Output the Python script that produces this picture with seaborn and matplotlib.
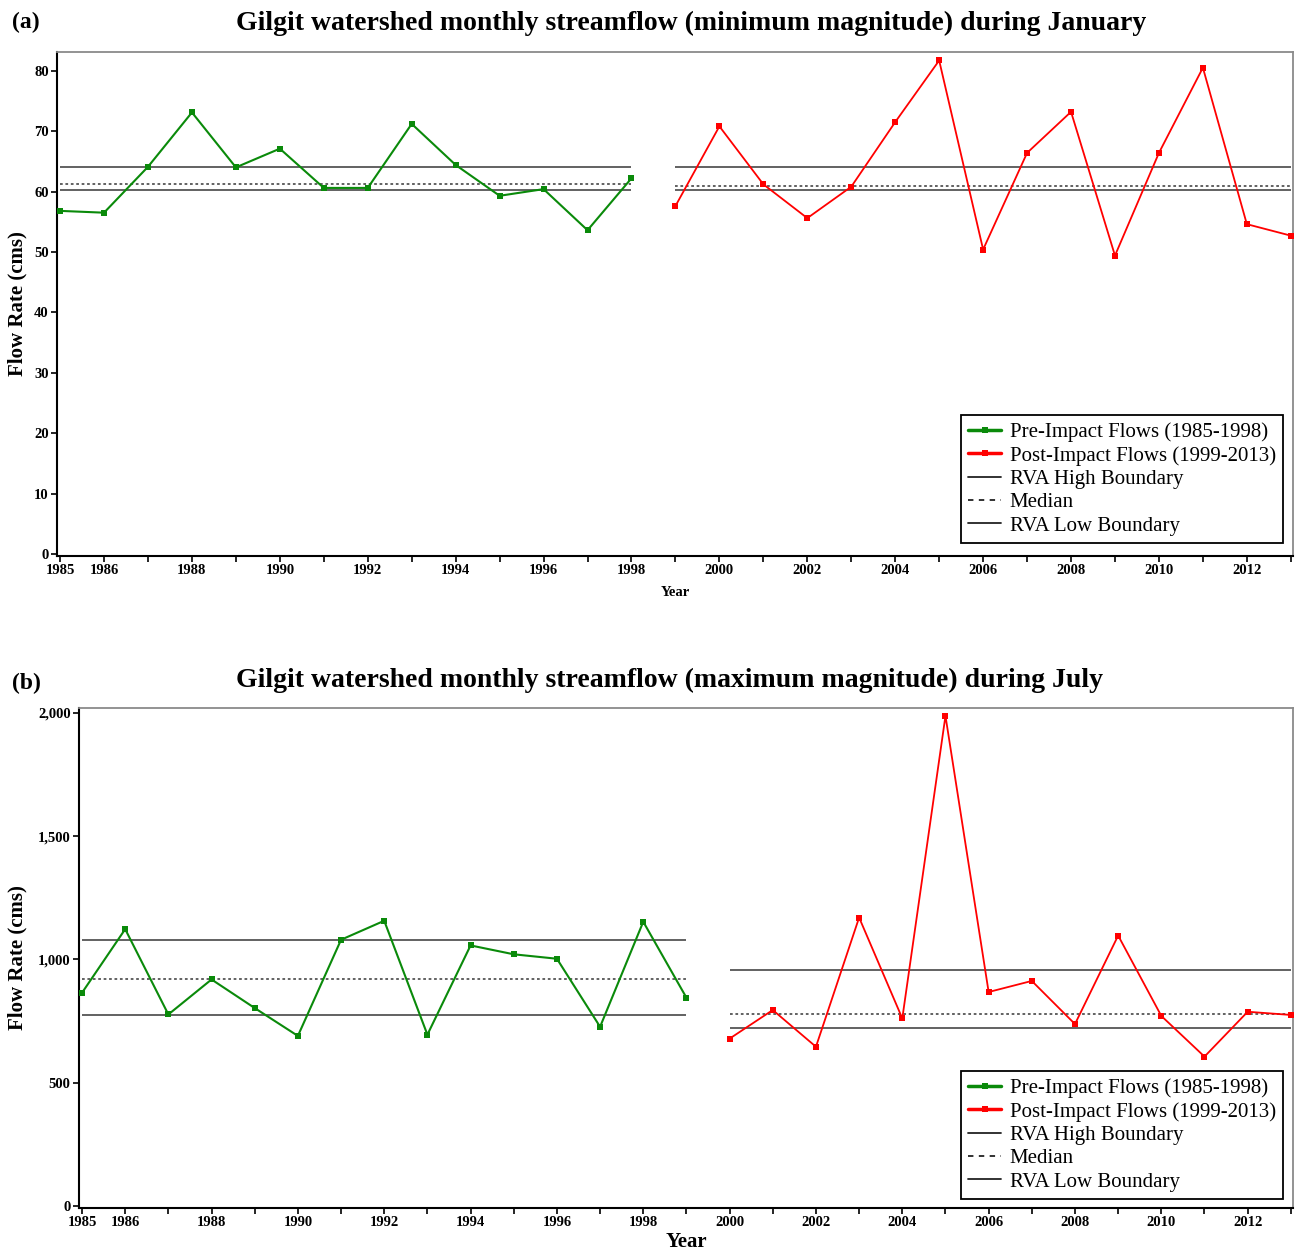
import numpy as np
import pandas as pd
import matplotlib
matplotlib.use("Agg")
import matplotlib.pyplot as plt
from matplotlib.lines import Line2D
from matplotlib.ticker import FuncFormatter, MultipleLocator
import seaborn as sns

# ---------------- data ----------------
# Panel (a): minimum magnitude during January
a_pre_years = list(range(1985, 1999))
a_pre_flow = [56.8, 56.5, 64.1, 73.1, 64.0, 67.1, 60.6, 60.6, 71.2, 64.4, 59.3, 60.4, 53.6, 62.2]
a_post_years = list(range(1999, 2014))
a_post_flow = [57.6, 70.8, 61.2, 55.6, 60.8, 71.5, 81.7, 50.4, 66.4, 73.2, 49.4, 66.4, 80.5, 54.6, 52.7]
a_pre_rva = {"high": 64.0, "median": 61.3, "low": 60.2}
a_post_rva = {"high": 64.1, "median": 61.0, "low": 60.2}

# Panel (b): maximum magnitude during July
b_pre_years = list(range(1985, 2000))
b_pre_flow = [865, 1123, 777, 919, 803, 690, 1080, 1157, 695, 1057, 1021, 1003, 727, 1153, 845]
b_post_years = list(range(2000, 2014))
b_post_flow = [679, 795, 646, 1170, 761, 1988, 868, 913, 738, 1097, 771, 606, 788, 775]
b_pre_rva = {"high": 1077, "median": 919, "low": 776}
b_post_rva = {"high": 959, "median": 779, "low": 721}

tick_years = list(range(1985, 2014))
label_years = [1985, 1986] + list(range(1988, 2013, 2))

titles = ["Gilgit watershed monthly streamflow (minimum magnitude) during January",
          "Gilgit watershed monthly streamflow (maximum magnitude) during July"]
panel_labels = ["(a)", "(b)"]
legend_labels = ["Pre-Impact Flows (1985-1998)", "Post-Impact Flows (1999-2013)",
                 "RVA High Boundary", "Median", "RVA Low Boundary"]

# ---------------- style ----------------
sns.set_theme(style="ticks")
plt.rcParams["font.family"] = ["Liberation Serif", "DejaVu Serif"]
plt.rcParams.update({"text.color": "black", "axes.labelcolor": "black",
                     "xtick.color": "black", "ytick.color": "black"})

GREEN = "#0a8a0a"
RED = "#ff0000"
LINEC = "#555555"

fig = plt.figure(figsize=(12.95, 12.56), dpi=100)
W, H = 1295, 1256

def ax_rect(l, r, t, b):
    return [l / W, 1 - b / H, (r - l) / W, (b - t) / H]

ax_a = fig.add_axes(ax_rect(57, 1293, 52, 556))
ax_b = fig.add_axes(ax_rect(79, 1293, 708, 1208))

def draw_panel(ax, pre_y, pre_f, post_y, post_f, pre_rva, post_rva, ylim, ystep, fmt,
               ylab_x, xlab_fs, xlab_pad, legend_anchor):
    dpre = pd.DataFrame({"Year": pre_y, "Flow": pre_f})
    dpost = pd.DataFrame({"Year": post_y, "Flow": post_f})
    for (y0, y1), rva in (((pre_y[0], pre_y[-1]), pre_rva), ((post_y[0], post_y[-1]), post_rva)):
        ax.hlines(rva["high"], y0, y1, color=LINEC, lw=1.3, zorder=1)
        ax.hlines(rva["low"], y0, y1, color=LINEC, lw=1.3, zorder=1)
        ax.hlines(rva["median"], y0, y1, color=LINEC, lw=1.3, linestyles=(0, (1.5, 1.5)), zorder=1)
    sns.lineplot(data=dpre, x="Year", y="Flow", ax=ax, color=GREEN, lw=1.5,
                 marker="s", markersize=4.5, markeredgewidth=0, zorder=3)
    sns.lineplot(data=dpost, x="Year", y="Flow", ax=ax, color=RED, lw=1.3,
                 marker="s", markersize=4.5, markeredgewidth=0, zorder=3)
    ax.set_xlim(1984.93, 2013.05)
    ax.set_ylim(*ylim)
    ax.set_xticks(tick_years)
    ax.set_xticklabels([str(y) if y in label_years else "" for y in tick_years])
    ax.yaxis.set_major_locator(MultipleLocator(ystep))
    ax.yaxis.set_major_formatter(FuncFormatter(fmt))
    ax.tick_params(axis="both", direction="out", length=4, width=1.2, color="black",
                   labelsize=10.5, pad=2)
    for lab in ax.get_xticklabels() + ax.get_yticklabels():
        lab.set_fontweight("bold")
    ax.set_ylabel("Flow Rate (cms)", fontsize=15, fontweight="bold")
    ax.yaxis.set_label_coords(ylab_x, 0.5)
    ax.set_xlabel("Year", fontsize=xlab_fs, fontweight="bold", labelpad=xlab_pad)
    for s in ("left", "bottom"):
        ax.spines[s].set_color("black")
        ax.spines[s].set_linewidth(1.5)
    for s in ("top", "right"):
        ax.spines[s].set_color("#8a8a8a")
        ax.spines[s].set_linewidth(1.3)
    handles = [
        Line2D([], [], color=GREEN, lw=2.5, marker="s", markersize=5, markeredgewidth=0),
        Line2D([], [], color=RED, lw=2.5, marker="s", markersize=5, markeredgewidth=0),
        Line2D([], [], color="#222222", lw=1.3),
        Line2D([], [], color="#222222", lw=1.3, ls=(0, (3, 3))),
        Line2D([], [], color="#222222", lw=1.3),
    ]
    leg = ax.legend(handles, legend_labels, loc="lower right", bbox_to_anchor=legend_anchor,
                    borderaxespad=0, fontsize=15, frameon=True, fancybox=False,
                    edgecolor="black", framealpha=1, labelspacing=0.18,
                    handlelength=1.6, handletextpad=0.4, borderpad=0.35)
    leg.get_frame().set_linewidth(1.3)

draw_panel(ax_a, a_pre_years, a_pre_flow, a_post_years, a_post_flow, a_pre_rva, a_post_rva,
           (-0.33, 83.1), 10, lambda v, p: f"{v:.0f}", (27 - 57) / 1236, 10.5, 6,
           ((1283 - 57) / 1236, (556 - 543) / 504))
draw_panel(ax_b, b_pre_years, b_pre_flow, b_post_years, b_post_flow, b_pre_rva, b_post_rva,
           (-8, 2020), 500, lambda v, p: f"{v:,.0f}", (27 - 79) / 1214, 15, 2,
           ((1283 - 79) / 1214, (1208 - 1199) / 500))

fig.text(691 / W, 1 - 23 / H, titles[0], ha="center", va="center", fontsize=20, fontweight="bold")
fig.text(670 / W, 1 - 680 / H, titles[1], ha="center", va="center", fontsize=20, fontweight="bold")
fig.text(12 / W, 1 - 22 / H, panel_labels[0], ha="left", va="center", fontsize=17, fontweight="bold")
fig.text(12 / W, 1 - 683 / H, panel_labels[1], ha="left", va="center", fontsize=17, fontweight="bold")

fig.savefig("out.png", dpi=100)
